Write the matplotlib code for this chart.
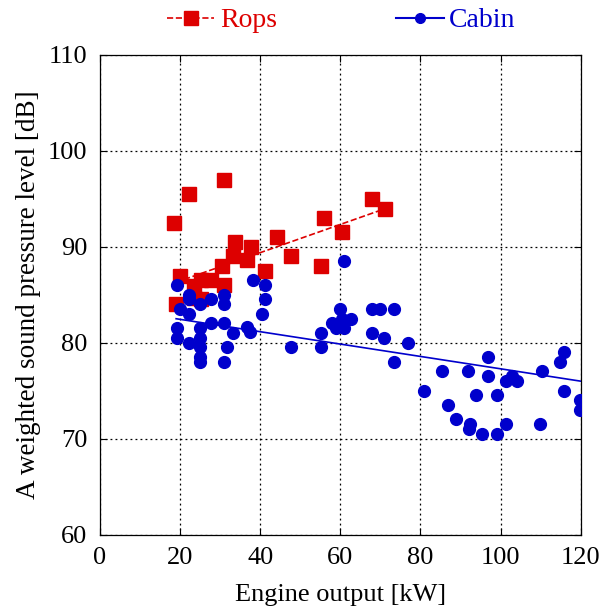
import matplotlib
matplotlib.use("Agg")
import matplotlib.pyplot as plt
import numpy as np

# Rops (open cab) measurements
rops_kw = [18.5, 22.2, 30.9, 33.8, 33.1, 37.6, 36.7, 30.5, 44.2, 47.8, 41.2, 55.2,
           56.0, 60.3, 68.0, 71.1, 20.0, 19.0, 23.5, 25.1, 27.7, 31.0, 23.5, 25.1]
rops_db = [92.5, 95.5, 97.0, 90.5, 89.0, 90.0, 88.6, 88.0, 91.0, 89.0, 87.5, 88.0,
           93.0, 91.5, 95.0, 93.9, 86.9, 84.0, 85.9, 86.5, 86.5, 86.0, 84.7, 84.5]

# Cabin measurements
cabin_kw = [19.2, 22.1, 22.1, 25.0, 27.8, 30.9, 30.9, 38.2, 41.2, 41.2, 40.5, 19.9,
            22.1, 19.2, 19.2, 22.2, 25.0, 25.0, 25.0, 25.0, 25.0, 27.8, 30.9, 33.2,
            31.6, 30.9, 36.7, 37.5, 47.7, 55.1, 55.1, 60.9, 59.9, 57.8, 58.8, 60.9,
            60.5, 62.7, 67.9, 70.0, 73.5, 67.9, 71.0, 76.9, 73.5, 80.8,
            85.5, 91.8, 96.9, 96.9, 93.8, 99.2, 87.0, 88.8, 92.3, 92.0, 95.4, 99.0,
            101.4, 101.3, 102.8, 104.0, 110.3, 109.8, 114.8, 115.8, 115.8, 119.8, 119.8]
cabin_db = [86.0, 85.0, 84.5, 84.0, 84.5, 85.0, 84.0, 86.5, 86.0, 84.5, 83.0, 83.5,
            83.0, 81.5, 80.5, 80.0, 81.5, 80.5, 79.5, 78.5, 78.0, 82.1, 82.1, 81.0,
            79.5, 78.0, 81.6, 81.1, 79.5, 81.0, 79.5, 88.5, 83.5, 82.1, 81.5, 81.5,
            82.5, 82.5, 83.5, 83.5, 83.5, 81.0, 80.5, 80.0, 78.0, 75.0,
            77.0, 77.0, 78.5, 76.5, 74.5, 74.5, 73.5, 72.0, 71.5, 71.0, 70.5, 70.5,
            71.5, 76.0, 76.5, 76.0, 77.0, 71.5, 78.0, 79.0, 75.0, 74.0, 73.0]

# trend lines as shown in the chart: slope, intercept, x range
rops_fit = [0.147, 83.5]
rops_fit_range = [21, 71]
cabin_fit = [-0.0644, 83.72]
cabin_fit_range = [19, 120]

red = '#dd0000'
blue = '#0000cc'

plt.rcParams['font.family'] = ['Liberation Serif', 'DejaVu Serif']
plt.rcParams['font.size'] = 19

fig = plt.figure(figsize=(6.01, 6.08), dpi=100)
ax = fig.add_axes([0.1664, 0.1206, 0.7998, 0.7894])

ax.plot(rops_kw, rops_db, 's', color=red, ms=9.5, zorder=3)
ax.plot(cabin_kw, cabin_db, 'o', color=blue, ms=8.5, zorder=4)

xr = np.array(rops_fit_range)
ax.plot(xr, np.polyval(rops_fit, xr), '--', color=red, lw=1.2, zorder=3)
xc = np.array(cabin_fit_range)
ax.plot(xc, np.polyval(cabin_fit, xc), '-', color=blue, lw=1.2, zorder=5)

ax.set_xlim(0, 120)
ax.set_ylim(60, 110)
ax.set_xticks(np.arange(0, 121, 20))
ax.set_yticks(np.arange(60, 111, 10))
ax.grid(True, color='black', linestyle=(0, (1.5, 2.5)), linewidth=0.9)
ax.set_axisbelow(True)
ax.tick_params(direction='in', top=True, right=True, length=5, labelsize=19, pad=9)
for s in ax.spines.values():
    s.set_linewidth(0.9)
ax.set_xlabel('Engine output [kW]', fontsize=19, labelpad=11)
ax.set_ylabel('A weighted sound pressure level [dB]', fontsize=19.5, labelpad=5)

h1, = ax.plot([], [], 's--', color=red, ms=10, lw=1.2)
h2, = ax.plot([], [], 'o-', color=blue, ms=7, lw=1.5)
leg = fig.legend([h1, h2], ['Rops', 'Cabin'], loc='center', bbox_to_anchor=(0.568, 0.966),
                 ncol=2, frameon=False, handlelength=1.7, columnspacing=4.3,
                 handletextpad=0.2, fontsize=20)
for t, c in zip(leg.get_texts(), [red, blue]):
    t.set_color(c)

fig.savefig('out.png', dpi=100)
